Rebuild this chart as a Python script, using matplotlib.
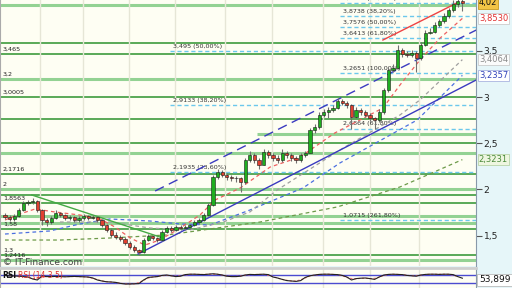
import numpy as np
import matplotlib
matplotlib.use("Agg")
import matplotlib.pyplot as plt
from matplotlib.ticker import FuncFormatter

# candles (open = previous close)
first_open = 1.72
closes = [1.70, 1.68, 1.71, 1.78, 1.85, 1.86, 1.88, 1.78, 1.67, 1.65,
          1.69, 1.74, 1.72, 1.69, 1.70, 1.67, 1.69, 1.71, 1.69, 1.70,
          1.67, 1.61, 1.56, 1.51, 1.49, 1.46, 1.42, 1.38, 1.34, 1.32,
          1.45, 1.50, 1.47, 1.45, 1.54, 1.58, 1.56, 1.59, 1.58, 1.59,
          1.61, 1.65, 1.67, 1.72, 1.83, 2.13, 2.19, 2.16, 2.13, 2.12,
          2.12, 2.08, 2.32, 2.37, 2.32, 2.27, 2.41, 2.37, 2.34, 2.32,
          2.40, 2.37, 2.34, 2.32, 2.37, 2.40, 2.64, 2.68, 2.81, 2.84,
          2.86, 2.88, 2.96, 2.94, 2.91, 2.79, 2.86, 2.84, 2.81, 2.77,
          2.75, 2.84, 3.08, 3.29, 3.32, 3.51, 3.47, 3.46, 3.48, 3.42,
          3.57, 3.70, 3.71, 3.78, 3.82, 3.88, 3.94, 4.01, 4.04, 4.02]
highs = [1.74, 1.72, 1.73, 1.80, 1.87, 1.89, 1.91, 1.89, 1.79, 1.69,
         1.71, 1.78, 1.76, 1.73, 1.72, 1.71, 1.71, 1.73, 1.72, 1.72,
         1.71, 1.68, 1.63, 1.58, 1.54, 1.51, 1.48, 1.44, 1.40, 1.36,
         1.47, 1.52, 1.51, 1.49, 1.56, 1.60, 1.60, 1.61, 1.61, 1.61,
         1.63, 1.67, 1.69, 1.74, 1.85, 2.16, 2.22, 2.21, 2.18, 2.16,
         2.15, 2.14, 2.34, 2.42, 2.39, 2.34, 2.44, 2.43, 2.39, 2.37,
         2.44, 2.42, 2.39, 2.36, 2.39, 2.42, 2.67, 2.71, 2.84, 2.87,
         2.89, 2.91, 2.99, 2.98, 2.96, 2.93, 2.89, 2.88, 2.86, 2.83,
         2.79, 2.87, 3.10, 3.32, 3.36, 3.56, 3.53, 3.50, 3.51, 3.50,
         3.60, 3.73, 3.75, 3.81, 3.85, 3.91, 3.97, 4.05, 4.06, 4.06]
lows = [1.68, 1.66, 1.66, 1.70, 1.77, 1.83, 1.84, 1.76, 1.62, 1.60,
        1.63, 1.68, 1.70, 1.67, 1.67, 1.65, 1.65, 1.67, 1.67, 1.68,
        1.65, 1.59, 1.54, 1.49, 1.46, 1.44, 1.40, 1.36, 1.32, 1.29,
        1.31, 1.44, 1.45, 1.43, 1.44, 1.53, 1.54, 1.55, 1.56, 1.56,
        1.57, 1.60, 1.63, 1.66, 1.71, 1.82, 2.11, 2.13, 2.10, 2.09,
        2.08, 1.97, 2.06, 2.30, 2.29, 2.22, 2.26, 2.34, 2.31, 2.29,
        2.30, 2.34, 2.31, 2.29, 2.30, 2.35, 2.39, 2.61, 2.66, 2.79,
        2.77, 2.84, 2.87, 2.91, 2.88, 2.65, 2.77, 2.81, 2.78, 2.74,
        2.66, 2.73, 2.82, 3.06, 3.27, 3.30, 3.44, 3.43, 3.44, 3.27,
        3.40, 3.55, 3.68, 3.69, 3.76, 3.80, 3.86, 3.92, 3.98, 3.93]

# moving averages (index, value)
ma_red_idx = [0, 3.2, 6.5, 10.8, 16.2, 20.6, 23.8, 27.1, 30.3, 33.5, 37.9, 42.2, 45.5,
              50.9, 57.4, 63.9, 71.4, 76.8, 81.8, 85.5, 89.8, 94.2, 99]
ma_red_val = [1.669, 1.734, 1.788, 1.756, 1.723, 1.680, 1.593, 1.474, 1.398, 1.452, 1.582,
              1.723, 1.886, 2.016, 2.243, 2.352, 2.612, 2.752, 2.882, 3.132, 3.402, 3.641, 3.853]
ma_grey_idx = [11.9, 22.7, 31.4, 40.0, 47.2, 53.0, 58.9, 73.2, 85.5, 89.8, 99]
ma_grey_val = [1.647, 1.647, 1.582, 1.561, 1.647, 1.756, 1.994, 2.449, 2.807, 2.969, 3.4064]
ma_blue_idx = [0, 9.7, 16.2, 22.7, 31.4, 37.9, 44.4, 53.0, 64.5, 72.5, 89.2, 99]
ma_blue_val = [1.517, 1.550, 1.626, 1.680, 1.658, 1.626, 1.615, 1.777, 2.016, 2.287, 2.752, 3.2357]
ma_green_idx = [0, 11.9, 22.7, 35.1, 42.9, 55.2, 71.9, 85.5, 99]
ma_green_val = [1.452, 1.452, 1.474, 1.507, 1.561, 1.647, 1.810, 2.027, 2.3231]

# trend lines (two points each)
chan_low = ([28.8, 102.0], [1.300, 3.186])
chan_high = ([32.5, 102.0], [1.983, 3.727])
trend_red = ([81.8, 97.8], [3.619, 4.020])
trend_green = ([5.8, 34.2], [1.940, 1.474])

# support / resistance levels
sr_levels = [3.998, 3.587, 3.467, 3.197, 3.002, 2.763, 2.601, 2.503, 2.395,
             2.167, 2.004, 1.940, 1.853, 1.712, 1.636, 1.571, 1.290, 1.236]
sr_dark = [0, 1, 1, 0, 1, 1, 0, 1, 0, 1, 0, 1, 1, 0, 0, 1, 1, 0]
sr_start = [-2, -2, -2, -2, -2, -2, 54.5, -2, -2, -2, -2, -2, -2, -2, -2, -2, -2, -2]
sr_labels = ["", "", "3,465", "3,2", "3,0005", "", "", "", "", "2,1716", "2", "",
             "1,8563", "", "", "1,58", "1,3", "1,2416"]

# fibonacci levels
fib_levels = [4.017, 3.8738, 3.7576, 3.6413, 3.495, 3.2651, 2.9133, 2.66, 2.1935, 1.669]
fib_start = [72.5, 72.5, 72.5, 72.5, 35.7, 72.5, 35.7, 72.5, 35.7, 72.5]
fib_labels = ["4,0170 (23,60%)", "3,8738 (38,20%)", "3,7576 (50,00%)", "3,6413 (61,80%)",
              "3,495 (50,00%)", "3,2651 (100,00%)", "2,9133 (38,20%)", "2,6864 (61,80%)",
              "2,1935 (23,60%)", "1,0715 (261,80%)"]

rsi = [68, 66, 65, 64, 62, 60, 50, 45, 65, 62, 62, 63, 62, 61, 62, 63, 62, 61, 60, 55,
       45, 40, 36, 35, 33, 28, 25, 25, 26, 27, 45, 58, 60, 62, 68, 70, 66, 62, 64, 72,
       74, 74, 73, 72, 74, 76, 74, 70, 64, 62, 62, 64, 70, 73, 72, 73, 74, 72, 60, 55,
       48, 42, 40, 38, 42, 58, 66, 70, 73, 74, 74, 73, 72, 68, 60, 45, 52, 54, 55, 52,
       48, 60, 70, 73, 74, 73, 72, 68, 66, 64, 70, 73, 74, 74, 73, 74, 74, 72, 62, 53.899]

grid_idx = [7.6, 16.9, 26.8, 36.8, 47.6, 57.8, 68.8, 79.0, 89.6]
price_ticks = [1.5, 2.0, 2.5, 3.0, 3.5]

bg = "#fefef3"
comma = lambda v, p=None: ("%g" % v).replace(".", ",")

fig = plt.figure(figsize=(5.12, 2.88), dpi=100, facecolor="#e6f6f9")
ax = fig.add_axes([0, 1 - 266 / 288, 476 / 512, 266 / 288], facecolor=bg)
rax = fig.add_axes([0, -2 / 288, 476 / 512, 22 / 288], facecolor=bg)

x = np.arange(len(closes))
c = np.array(closes)
o = np.concatenate([[first_open], c[:-1]])
xmin, xmax = -1.08, 101.95

for a in (ax, rax):
    a.set_xlim(xmin, xmax)
    a.set_xticks(grid_idx)
    a.grid(axis="x", color="#e6e6d6", lw=1)
    a.tick_params(axis="x", length=0, labelbottom=False)
    for s in ("top", "bottom"):
        a.spines[s].set_visible(False)
    a.spines["left"].set_color("#aaaaaa")
    a.spines["right"].set_color("#8899aa")

ax.set_ylim(1.1706, 4.0525)

# S/R lines
for lvl, dark, st, lab in zip(sr_levels, sr_dark, sr_start, sr_labels):
    if dark:
        ax.hlines(lvl, st, 103, color="#3d9b3d", lw=1.2, zorder=1)
    else:
        ax.hlines(lvl, st, 103, color="#93d293", lw=2.2, zorder=1)
    if lab:
        ax.annotate(lab, (xmin, lvl), xytext=(2, 1.5), textcoords="offset points",
                    fontsize=4.6, color="#222222", va="bottom")

# fibonacci
for lvl, st, lab in zip(fib_levels, fib_start, fib_labels):
    ax.hlines(lvl, st, 103, color="#6cc8ec", lw=1, linestyles=(0, (3, 2)), zorder=2)
    ax.annotate(lab, (st, lvl), xytext=(2, 1.5), textcoords="offset points",
                fontsize=4.6, color="#333333", va="bottom")

# moving averages
ax.plot(ma_green_idx, ma_green_val, color="#6d9a4a", lw=0.9, dashes=(3, 2.5), zorder=3)
ax.plot(ma_blue_idx, ma_blue_val, color="#4b6fe0", lw=0.9, dashes=(3, 2.5), zorder=3)
ax.plot(ma_grey_idx, ma_grey_val, color="#a0a0a0", lw=0.9, dashes=(3, 2.5), zorder=3)
ax.plot(ma_red_idx, ma_red_val, color="#ee6060", lw=0.9, dashes=(3, 2.5), zorder=3)

# trend lines
ax.plot(*chan_low, color="#3b3bc0", lw=1, zorder=3)
ax.plot(*chan_high, color="#3b3bc0", lw=1, dashes=(7, 4), zorder=3)
ax.plot(*trend_red, color="#ee4444", lw=1, zorder=3)
ax.plot(*trend_green, color="#44aa44", lw=1, zorder=3)

# candles
up = c >= o
ax.vlines(x, lows, highs, color="#707070", lw=0.8, zorder=4)
body_lo = np.minimum(o, c)
body_h = np.maximum(np.abs(c - o), 0.006)
ax.bar(x[up], body_h[up], bottom=body_lo[up], width=0.7, color="#1fae1f",
       edgecolor="#1a1a1a", lw=0.4, zorder=5)
ax.bar(x[~up], body_h[~up], bottom=body_lo[~up], width=0.7, color="#e04030",
       edgecolor="#1a1a1a", lw=0.4, zorder=5)

# right axis
ax.yaxis.tick_right()
ax.set_yticks(price_ticks)
ax.yaxis.set_major_formatter(FuncFormatter(comma))
ax.tick_params(axis="y", length=4, width=0.8, color="#555555", labelsize=6.6, pad=1.5,
               labelcolor="#222222")

tr = ax.get_yaxis_transform()
boxes = [(closes[-1], "%.2f", "#111111", "#f2c445", "#c89a20"),
         (ma_red_val[-1], "%.4f", "#e03030", "#ffffff", "#cccccc"),
         (ma_grey_val[-1], "%.4f", "#8a8a8a", "#fbfbfb", "#cccccc"),
         (ma_blue_val[-1], "%.4f", "#3344bb", "#ffffff", "#aab4e0"),
         (ma_green_val[-1], "%.4f", "#4a8a3a", "#eef6e0", "#b8d4a8")]
for val, fmt, tc, fc, ec in boxes:
    ax.text(1.006, val, (fmt % val).replace(".", ","), transform=tr, fontsize=6.0,
            color=tc, va="center", ha="left",
            bbox=dict(boxstyle="square,pad=0.15", fc=fc, ec=ec, lw=0.6))

ax.text(0.006, 0.012, "\u00a9 IT-Finance.com", transform=ax.transAxes, fontsize=6.5,
        color="#444444", va="center")

# RSI panel
rax.set_ylim(-5, 105)
rax.set_yticks([])
rax.spines["top"].set_visible(True)
rax.spines["top"].set_color("#cfcfcf")
rax.spines["top"].set_linewidth(2)
rax.axhline(70, color="#4b4bd0", lw=1)
rax.axhline(30, color="#4b4bd0", lw=1)
sig = np.convolve(rsi, np.ones(3) / 3, mode="same")
rax.plot(x[1:-1], sig[1:-1], color="#ee7070", lw=0.8, dashes=(2, 1.5))
rax.plot(x, rsi, color="#222222", lw=0.8)
rax.text(0.005, 0.68, "RSI", transform=rax.transAxes, fontsize=5.5, color="#111111",
         va="center", fontweight="bold")
rax.text(0.038, 0.68, "RSI (14 3 5)", transform=rax.transAxes, fontsize=5.5,
         color="#e03030", va="center")
rax.text(1.006, rsi[-1] - 8, ("%.3f" % rsi[-1]).replace(".", ","),
         transform=rax.get_yaxis_transform(), fontsize=6.5, color="#111111",
         va="center", ha="left",
         bbox=dict(boxstyle="square,pad=0.2", fc="#ffffff", ec="#bbbbbb", lw=0.6))

fig.savefig("out.png", dpi=100, facecolor=fig.get_facecolor())
